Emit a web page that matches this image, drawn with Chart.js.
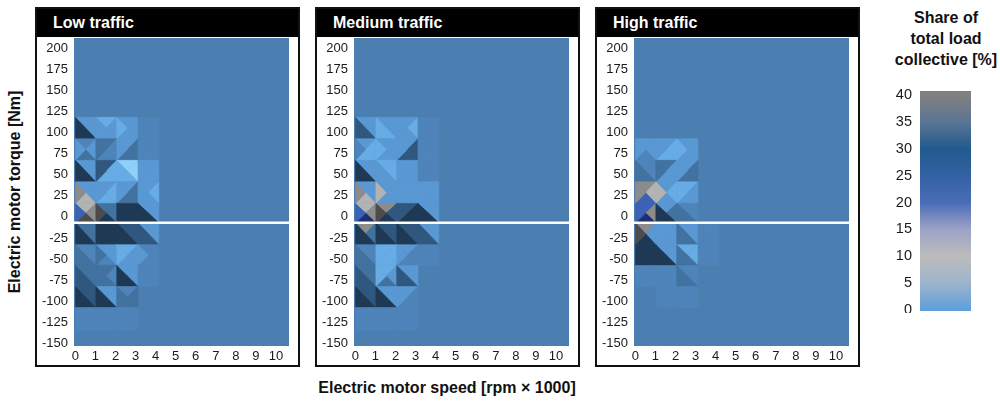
<!DOCTYPE html>
<html>
<head>
<meta charset="utf-8">
<script src="https://cdn.jsdelivr.net/npm/chart.js@4.4.1/dist/chart.umd.min.js"></script>
<style>
  body { margin:0; width:1000px; height:402px; background:#fff; position:relative; overflow:hidden; font-family:"Liberation Sans", Arial, sans-serif; color:#111; }
  .panel { position:absolute; top:7px; width:265px; height:360px; border:2px solid #111; box-sizing:border-box; }
  .panel .head { position:absolute; left:0; top:0; right:0; height:28px; background:#000; color:#fff; font-weight:bold; font-size:16px; line-height:28px; padding-left:16px; }
  canvas { position:absolute; }
  .title { position:absolute; font-weight:bold; font-size:16px; text-align:center; }
</style>
</head>
<body>
<div class="panel" style="left:35px"><div class="head">Low traffic</div></div>
<div class="panel" style="left:315px"><div class="head">Medium traffic</div></div>
<div class="panel" style="left:595px"><div class="head">High traffic</div></div>

<canvas id="low" width="261" height="326" style="left:37px; top:38px"></canvas>
<canvas id="medium" width="261" height="326" style="left:317px; top:38px"></canvas>
<canvas id="high" width="261" height="326" style="left:597px; top:38px"></canvas>
<canvas id="bar" width="100" height="228" style="left:878px; top:85px"></canvas>

<div class="title" style="left:-135px; top:182px; width:300px; line-height:20px; transform:rotate(-90deg)">Electric motor torque [Nm]</div>
<div class="title" style="left:247px; top:378px; width:400px; line-height:20px">Electric motor speed [rpm × 1000]</div>
<div class="title" style="left:876px; top:7px; width:140px; line-height:21px">Share of<br>total load<br>collective [%]</div>

<script>
// axes
const xTicks = [0, 1, 2, 3, 4, 5, 6, 7, 8, 9, 10];
const yTicks = [-150, -125, -100, -75, -50, -25, 0, 25, 50, 75, 100, 125, 150, 175, 200];
const xMin = -0.07, xMax = 10.65;
const yMin = -153, yMax = 212;

// grid of the surface (speed bins, torque bins from top to bottom)
const xEdges = [0, 1.02, 2.06, 3.12, 4.16, 5.2];
const yEdges = [118, 92.5, 67, 41.5, 16, -7, -33, -57.5, -82.5, -107.5, -134, -153];
const zeroLineY = -7;

// each cell = 4 triangles: top, right, bottom, left (shade codes below)
const lowTraffic = [
  ['aaff', 'baaa', 'aaab', 'mmmm', '....'],
  ['mada', 'dmmd', 'adda', 'mmmm', '....'],
  ['aaff', 'ebbe', 'ccbb', 'aaaa', '....'],
  ['aagh', 'abba', 'adda', 'abaa', '....'],
  ['ghku', 'ddfk', 'ffff', 'aaff', '....'],
  ['ddff', 'ffff', 'eeff', 'aaee', '....'],
  ['mmdd', 'aamd', 'baab', 'mmma', '....'],
  ['ddee', 'dmdd', 'aaff', 'mmmm', '....'],
  ['eeff', 'aaff', 'mddd', '....', '....'],
  ['mmmm', 'mmmm', 'mmmm', '....', '....'],
  ['....', '....', '....', '....', '....']
];
const mediumTraffic = [
  ['aaee', 'aabb', 'abaa', 'mmmm', '....'],
  ['abbm', 'aaab', 'aeea', 'mmmm', '....'],
  ['aaff', 'bbaa', 'aaaa', 'mmmm', '....'],
  ['aagh', 'aaag', 'aaaa', 'aaaa', '....'],
  ['ghnu', 'hefk', 'effe', 'aaff', '....'],
  ['hdff', 'eeff', 'eeff', 'aaee', '....'],
  ['mmdd', 'bbbb', 'amma', 'mmmm', '....'],
  ['ddee', 'badb', 'aaee', '....', '....'],
  ['eeff', 'aaff', 'amma', '....', '....'],
  ['mmmm', 'mmmm', 'mmmm', '....', '....'],
  ['....', '....', '....', '....', '....']
];
const highTraffic = [
  ['....', '....', '....', '....', '....'],
  ['aama', 'abba', 'aaab', '....', '....'],
  ['mmdd', 'daad', 'adda', '....', '....'],
  ['hguh', 'abag', 'baab', '....', '....'],
  ['uhnu', 'adff', 'mmdd', '....', '....'],
  ['hafk', 'aaaa', 'aadd', 'mmmm', '....'],
  ['ffff', 'aaff', 'bbdd', 'mmmm', '....'],
  ['mmmm', 'mmmm', 'mmdd', '....', '....'],
  ['....', 'mmmm', 'mmmm', '....', '....'],
  ['....', '....', '....', '....', '....'],
  ['....', '....', '....', '....', '....']
];

// colour bar
const cbTicks = [0, 5, 10, 15, 20, 25, 30, 35, 40];
const cbStops = [0, 5, 10, 15, 20, 25, 30, 35, 40];
const cbColors = ['#5e9fdc', '#9db4cc', '#bcbcbc', '#9ca2c6', '#4a6cb6', '#3462a4', '#215a8d', '#5a7595', '#808080'];
const cbRange = [-0.2, 40.8];

const plotBg = '#4b7fb2';
const shades = {
  m: '#4e84b9', a: '#5a98d4', b: '#68ace6', c: '#8fd0f6',
  d: '#42729f', e: '#30587f', f: '#1f3954',
  g: '#b3b3b3', h: '#8c8c8c', k: '#4d4b4b', u: '#3b62b5', n: '#1c2f6e'
};

Chart.defaults.font.family = '"Liberation Sans", Arial, sans-serif';
Chart.defaults.color = '#1a1a1a';

function surfacePlugin(cells) {
  return {
    id: 'surface',
    beforeDatasetsDraw(chart) {
      const {ctx, chartArea: a, scales: {x, y}} = chart;
      ctx.save();
      ctx.beginPath();
      ctx.rect(a.left, a.top, a.right - a.left, a.bottom - a.top);
      ctx.clip();
      ctx.fillStyle = plotBg;
      ctx.fillRect(a.left, a.top, a.right - a.left, a.bottom - a.top);
      cells.forEach((row, r) => {
        const y0 = y.getPixelForValue(yEdges[r]);
        const y1 = y.getPixelForValue(yEdges[r + 1]);
        row.forEach((code, c) => {
          const x0 = x.getPixelForValue(xEdges[c]);
          const x1 = x.getPixelForValue(xEdges[c + 1]);
          const cx = (x0 + x1) / 2, cy = (y0 + y1) / 2;
          const tris = [
            [[x0, y0], [x1, y0]],
            [[x1, y0], [x1, y1]],
            [[x1, y1], [x0, y1]],
            [[x0, y1], [x0, y0]]
          ];
          tris.forEach((t, i) => {
            const col = shades[code[i]];
            if (!col) return;
            ctx.beginPath();
            ctx.moveTo(t[0][0], t[0][1]);
            ctx.lineTo(t[1][0], t[1][1]);
            ctx.lineTo(cx, cy);
            ctx.closePath();
            ctx.fillStyle = col;
            ctx.strokeStyle = col;
            ctx.lineWidth = 0.6;
            ctx.fill();
            ctx.stroke();
          });
        });
      });
      ctx.restore();
    }
  };
}

function makePanel(id, cells) {
  return new Chart(document.getElementById(id), {
    type: 'scatter',
    data: {
      datasets: [{
        data: [{x: xMin, y: zeroLineY}, {x: xMax, y: zeroLineY}],
        showLine: true,
        borderColor: '#ffffff',
        borderWidth: 2.5,
        pointRadius: 0
      }]
    },
    options: {
      responsive: false,
      animation: false,
      layout: {padding: {right: 9, top: 0, bottom: 0, left: 0}},
      plugins: {legend: {display: false}, tooltip: {enabled: false}},
      scales: {
        x: {
          type: 'linear', min: xMin, max: xMax,
          grid: {display: false, drawTicks: false}, border: {display: false},
          ticks: {autoSkip: false, maxRotation: 0, padding: 3, font: {size: 13}},
          afterBuildTicks: s => { s.ticks = xTicks.map(v => ({value: v})); },
          afterFit: s => { s.height = 18; s.paddingLeft = 0; s.paddingRight = 0; }
        },
        y: {
          type: 'linear', min: yMin, max: yMax,
          grid: {display: false, drawTicks: false}, border: {display: false},
          ticks: {autoSkip: false, padding: 6, font: {size: 13}},
          afterBuildTicks: s => { s.ticks = yTicks.map(v => ({value: v})); },
          afterFit: s => { s.width = 37; s.paddingTop = 0; s.paddingBottom = 0; }
        }
      }
    },
    plugins: [surfacePlugin(cells)]
  });
}

makePanel('low', lowTraffic);
makePanel('medium', mediumTraffic);
makePanel('high', highTraffic);

new Chart(document.getElementById('bar'), {
  type: 'bar',
  data: {
    labels: [''],
    datasets: [{
      data: [cbRange],
      barPercentage: 1,
      categoryPercentage: 1,
      backgroundColor: ctx => {
        const s = ctx.chart.scales.y;
        if (!s || !ctx.chart.chartArea) return cbColors[0];
        const p0 = s.getPixelForValue(cbStops[0]);
        const p1 = s.getPixelForValue(cbStops[cbStops.length - 1]);
        if (!isFinite(p0) || !isFinite(p1)) return cbColors[0];
        const g = ctx.chart.ctx.createLinearGradient(0, p0, 0, p1);
        cbStops.forEach((v, i) => g.addColorStop(i / (cbStops.length - 1), cbColors[i]));
        return g;
      }
    }]
  },
  options: {
    responsive: false,
    animation: false,
    layout: {padding: {right: 7, top: 6, bottom: 2, left: 0}},
    plugins: {legend: {display: false}, tooltip: {enabled: false}},
    scales: {
      x: {display: false},
      y: {
        min: cbRange[0], max: cbRange[1],
        grid: {display: false, drawTicks: false}, border: {display: false},
        ticks: {autoSkip: false, padding: 8, font: {size: 14.5}},
        afterBuildTicks: s => { s.ticks = cbTicks.map(v => ({value: v})); },
        afterFit: s => { s.width = 42; s.paddingTop = 0; s.paddingBottom = 0; }
      }
    }
  }
});
</script>
</body>
</html>
